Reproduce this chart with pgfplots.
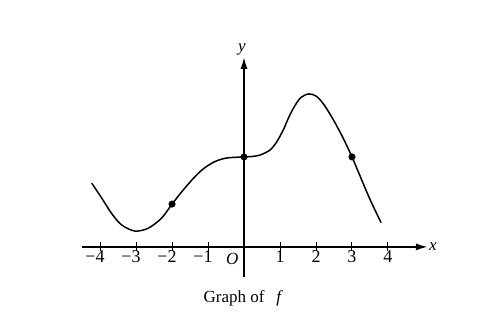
\documentclass[border=0pt]{standalone}
\usepackage{pgfplots}
\pgfplotsset{compat=1.18}
\usetikzlibrary{arrows.meta}
\usepackage{fontspec}
\setmainfont{Liberation Serif}
\begin{document}
\begin{tikzpicture}
\begin{axis}[
  x=36pt, y=36pt,
  axis lines=middle,
  axis line style={line width=1.8pt, -{Latex[length=12pt,width=7pt]}},
  xmin=-4.51, xmax=5.11,
  ymin=-0.83, ymax=5.28,
  xtick={-4,-3,-2,-1,1,2,3,4},
  xticklabels={\llap{−}4,\llap{−}3,\llap{−}2,\llap{−}1,1,2,3,4},
  ytick=\empty,
  tick align=center,
  major tick length=9pt,
  tick style={black, line width=1pt},
  xticklabel style={font=\fontsize{18}{20}\selectfont, anchor=north, yshift=4.5pt},
  clip=false,
]
\addplot[black, line width=1.5pt, smooth, tension=0.5] coordinates {
(-4.23,1.77) (-3.95,1.35) (-3.68,0.93) (-3.40,0.61) (-3.03,0.44) (-2.66,0.52)
(-2.29,0.80) (-2.0,1.19) (-1.69,1.58) (-1.41,1.90) (-1.13,2.17) (-0.81,2.37)
(-0.48,2.47) (0,2.50) (0.2,2.51) (0.44,2.55) (0.72,2.69) (0.91,2.92)
(1.09,3.25) (1.23,3.57) (1.37,3.85) (1.56,4.13) (1.79,4.25) (2.02,4.18)
(2.25,3.91) (2.5,3.50) (2.76,3.01) (3,2.50) (3.22,1.98) (3.5,1.32) (3.81,0.67)
};
\addplot[black, only marks, mark=*, mark size=3.3pt] coordinates {(-2,1.19) (0,2.5) (3,2.5)};
\node[anchor=west, font=\fontsize{17}{19}\selectfont\itshape, inner sep=1pt] at (axis cs:5.11,0.02) {x};
\node[anchor=south, font=\fontsize{17}{19}\selectfont\itshape, inner sep=1pt] at (axis cs:-0.06,5.28) {y};
\node[font=\fontsize{17}{19}\selectfont\itshape] at (axis cs:-0.33,-0.34) {O};
\node[font=\fontsize{17}{19}\selectfont] at (axis cs:-0.02,-1.42) {Graph of\hspace{0.7em}\textit{f}};
\coordinate (bl) at (axis cs:-6.78,-2.19);
\coordinate (tr) at (axis cs:6.89,6.86);
\end{axis}
\path (bl) rectangle (tr);
\end{tikzpicture}
\end{document}
